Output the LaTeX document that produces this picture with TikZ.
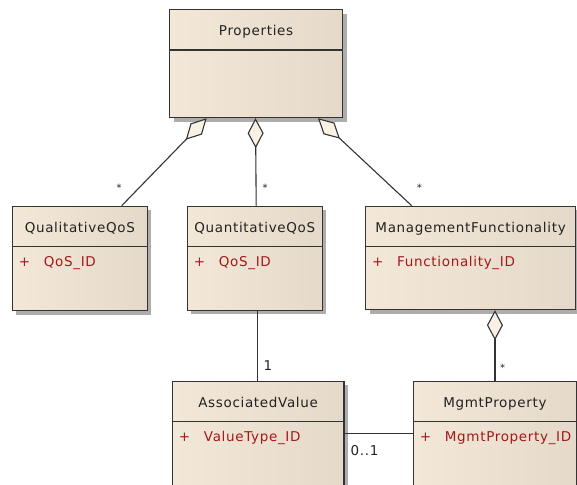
\documentclass[tikz,border=0pt]{standalone}
\usepackage{fontspec}
\setmainfont{DejaVu Sans}[LetterSpace=5]
\usetikzlibrary{arrows.meta,shadows,calc}

\definecolor{edge}{HTML}{333333}
\definecolor{fillL}{HTML}{F3E8D8}
\definecolor{fillM}{HTML}{FAF1E5}
\definecolor{fillR}{HTML}{E5DACA}
\definecolor{attrred}{HTML}{A31818}
\definecolor{txt}{HTML}{222222}

\tikzset{
  classbox/.style={draw=edge, line width=1.2pt, anchor=north west, inner sep=0pt,
    left color=fillL, middle color=fillM, right color=fillR,
    drop shadow={shadow xshift=4pt, shadow yshift=-4pt, fill=black!32, opacity=1}},
  divline/.style={draw=edge, line width=1.2pt},
  classtitle/.style={font=\fontsize{13.5}{15}\selectfont, text=txt, inner sep=0pt},
  attrtext/.style={font=\fontsize{13.5}{15}\selectfont, text=attrred, inner sep=0pt, anchor=base west},
  assoc/.style={draw=edge, line width=1.1pt},
  aggr/.style={assoc, {Diamond[length=30pt 0 0, width=16pt 0 0, fill=fillM]}-},
  mult/.style={font=\fontsize{10}{12}\selectfont, text=txt, inner sep=0pt, anchor=base},
  multbig/.style={font=\fontsize{13.5}{15}\selectfont, text=txt, inner sep=0pt, anchor=base}
}

% name, left x, top y, width, height, title
\newcommand\umlclass[6]{%
  \node[classbox, minimum width=#4pt, minimum height=#5pt] (#1) at (#2,#3) {};
  \draw[divline] ([yshift=-41pt]#1.north west) -- ([yshift=-41pt]#1.north east);
  \node[classtitle, anchor=base] (#1-title) at ([yshift=-27pt]#1.north) {#6};
}
% name of class, attribute
\newcommand\umlattr[2]{%
  \node[attrtext] (#1-vis) at ([xshift=7pt,yshift=-61pt]#1.north west) {+};
  \node[attrtext] (#1-attr) at ([xshift=32pt,yshift=-61pt]#1.north west) {#2};
}

\begin{document}
\begin{tikzpicture}[x=1pt, y=-1pt]
\useasboundingbox (0,0) rectangle (577,484);
\clip (0,0) rectangle (577,484);

\umlclass{props}{169}{9}{173}{108}{Properties}
\umlclass{qual}{11.7}{205.7}{135}{104.3}{QualitativeQoS}
\umlattr{qual}{QoS\_ID}
\umlclass{quant}{186.7}{205.7}{135}{104}{QuantitativeQoS}
\umlattr{quant}{QoS\_ID}
\umlclass{mgmt}{365}{205.7}{210}{103.3}{ManagementFunctionality}
\umlattr{mgmt}{Functionality\_ID}
\umlclass{assoc}{171.7}{380.7}{171.6}{130}{AssociatedValue}
\umlattr{assoc}{ValueType\_ID}
\umlclass{mprop}{412.7}{380.7}{163.3}{130}{MgmtProperty}
\umlattr{mprop}{MgmtProperty\_ID}

% aggregations of Properties
\draw[aggr] ([xshift=37.7pt]props.south west) -- ([xshift=110pt]qual.north west);
\draw[aggr] ([xshift=86.5pt]props.south west) -- ([xshift=69.5pt]quant.north west);
\draw[aggr] ([xshift=149pt]props.south west) -- ([xshift=46.7pt]mgmt.north west);
\draw[aggr] (mgmt.south -| mprop.north) -- (mprop.north);

% plain associations
\draw[assoc] ([xshift=86pt]assoc.north west) -- ([xshift=86pt]assoc.north west |- quant.south);
\draw[assoc] ([yshift=-52.6pt]assoc.north east) -- ([yshift=-52.6pt]assoc.north east -| mprop.west);

% multiplicities
\node[mult] (mq1) at (119,191.5) {*};
\node[mult] (mq2) at (265,191.5) {*};
\node[mult] (mq3) at (419.3,191.5) {*};
\node[mult] (mq4) at (502.7,371) {*};
\node[multbig] (mv1) at (268,370.5) {1};
\node[multbig] (mv2) at (364.5,455.5) {0..1};
\end{tikzpicture}
\end{document}
